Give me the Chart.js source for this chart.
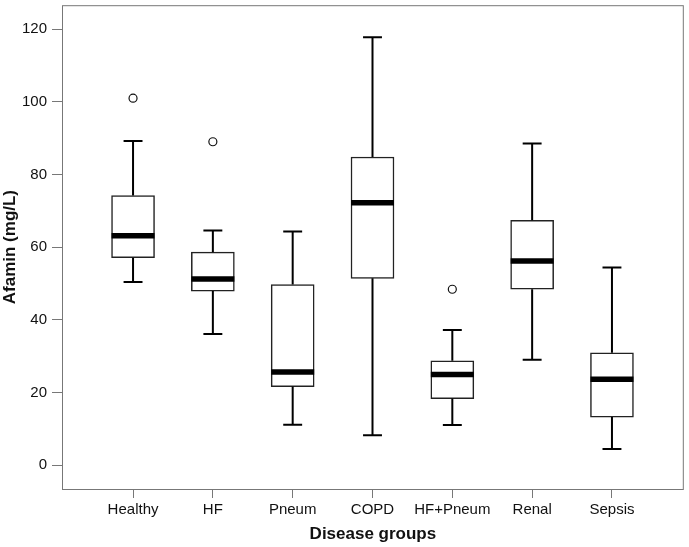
<!DOCTYPE html>
<html>
<head>
<meta charset="utf-8">
<script src="https://cdn.jsdelivr.net/npm/chart.js@4"></script>
<style>
  body { margin: 0; background: #fff; }
  canvas { display: block; }
</style>
</head>
<body>
<canvas id="grafico" width="689" height="547"></canvas>
<script>
// dados (Afamin mg/L por grupo)
const grupos = ['Healthy', 'HF', 'Pneum', 'COPD', 'HF+Pneum', 'Renal', 'Sepsis'];
const minimos = [50.4, 36.1, 11.1, 8.2, 11.0, 29.0, 4.4];
const q1 = [57.1, 47.9, 21.6, 51.4, 18.3, 48.4, 13.2];
const medianas = [63.1, 51.2, 25.6, 72.2, 24.9, 56.2, 23.6];
const q3 = [74.2, 58.6, 49.7, 84.8, 28.7, 67.4, 30.9];
const maximos = [89.2, 64.6, 64.3, 117.8, 37.2, 88.5, 54.4];
const outliers = [[101.0], [89.0], [], [], [48.4], [], []];
const yTicks = [0, 20, 40, 60, 80, 100, 120];

const FONTE = '"Liberation Sans", Arial, sans-serif';

// whiskers, medianas e moldura
const boxPlugin = {
  id: 'boxplot',
  afterDatasetsDraw(chart) {
    const ctx = chart.ctx;
    const xs = chart.scales.x;
    const ys = chart.scales.y;
    const barras = chart.getDatasetMeta(0).data;
    ctx.save();
    grupos.forEach((g, i) => {
      const cx = xs.getPixelForValue(i + 1);
      const w = barras[i].width;
      const cap = w * 0.22;
      ctx.strokeStyle = '#000';
      ctx.lineWidth = 2;
      ctx.beginPath();
      ctx.moveTo(cx, ys.getPixelForValue(q3[i]));
      ctx.lineTo(cx, ys.getPixelForValue(maximos[i]));
      ctx.moveTo(cx - cap, ys.getPixelForValue(maximos[i]));
      ctx.lineTo(cx + cap, ys.getPixelForValue(maximos[i]));
      ctx.moveTo(cx, ys.getPixelForValue(q1[i]));
      ctx.lineTo(cx, ys.getPixelForValue(minimos[i]));
      ctx.moveTo(cx - cap, ys.getPixelForValue(minimos[i]));
      ctx.lineTo(cx + cap, ys.getPixelForValue(minimos[i]));
      ctx.stroke();
      // mediana grossa
      ctx.lineWidth = 5.5;
      ctx.beginPath();
      ctx.moveTo(cx - w / 2, ys.getPixelForValue(medianas[i]));
      ctx.lineTo(cx + w / 2, ys.getPixelForValue(medianas[i]));
      ctx.stroke();
    });
    const a = chart.chartArea;
    ctx.strokeStyle = '#777';
    ctx.lineWidth = 1;
    ctx.strokeRect(a.left + 0.5, a.top + 0.5, a.right - a.left - 1, a.bottom - a.top);
    ctx.restore();
  }
};

const pontosOutliers = [];
outliers.forEach((lista, i) => lista.forEach(v => pontosOutliers.push({ x: i + 1, y: v })));

new Chart(document.getElementById('grafico'), {
  data: {
    datasets: [{
      type: 'bar',
      data: grupos.map((g, i) => ({ x: i + 1, y: [q1[i], q3[i]] })),
      backgroundColor: '#fff',
      borderColor: '#222',
      borderWidth: 1.5,
      borderSkipped: false,
      barThickness: 43
    }, {
      type: 'scatter',
      data: pontosOutliers,
      pointStyle: 'circle',
      pointRadius: 4,
      backgroundColor: '#fff',
      borderColor: '#111',
      borderWidth: 1.2
    }]
  },
  options: {
    responsive: false,
    animation: false,
    layout: { padding: { left: 0, right: 3, top: 3, bottom: 0 } },
    plugins: { legend: { display: false }, tooltip: { enabled: false } },
    scales: {
      x: {
        type: 'linear',
        offset: false,
        min: 0.11,
        max: 7.9,
        afterBuildTicks: s => { s.ticks = grupos.map((g, i) => ({ value: i + 1 })); },
        afterFit: s => { s.height = 58; s.paddingLeft = 0; s.paddingRight = 0; },
        grid: { offset: false, drawOnChartArea: false, drawTicks: true, tickLength: 9, color: '#777' },
        border: { display: false },
        ticks: {
          autoSkip: false, maxRotation: 0, padding: 3,
          color: '#111', font: { family: FONTE, size: 15 },
          callback: v => grupos[v - 1]
        },
        title: {
          display: true, text: 'Disease groups', color: '#111',
          font: { family: FONTE, size: 17, weight: 'bold' },
          padding: { top: 0, bottom: 2 }
        }
      },
      y: {
        min: -6.6,
        max: 126.6,
        afterBuildTicks: s => { s.ticks = yTicks.map(v => ({ value: v })); },
        afterFit: s => { s.width = 62; s.paddingTop = 0; s.paddingBottom = 0; },
        grid: { drawOnChartArea: false, drawTicks: true, tickLength: 10, color: '#777' },
        border: { display: false },
        ticks: { padding: 5, color: '#111', font: { family: FONTE, size: 15 } },
        title: {
          display: true, text: 'Afamin (mg/L)', color: '#111',
          font: { family: FONTE, size: 17, weight: 'bold' },
          padding: { top: 0, bottom: 0 }
        }
      }
    }
  },
  plugins: [boxPlugin]
});
</script>
</body>
</html>
